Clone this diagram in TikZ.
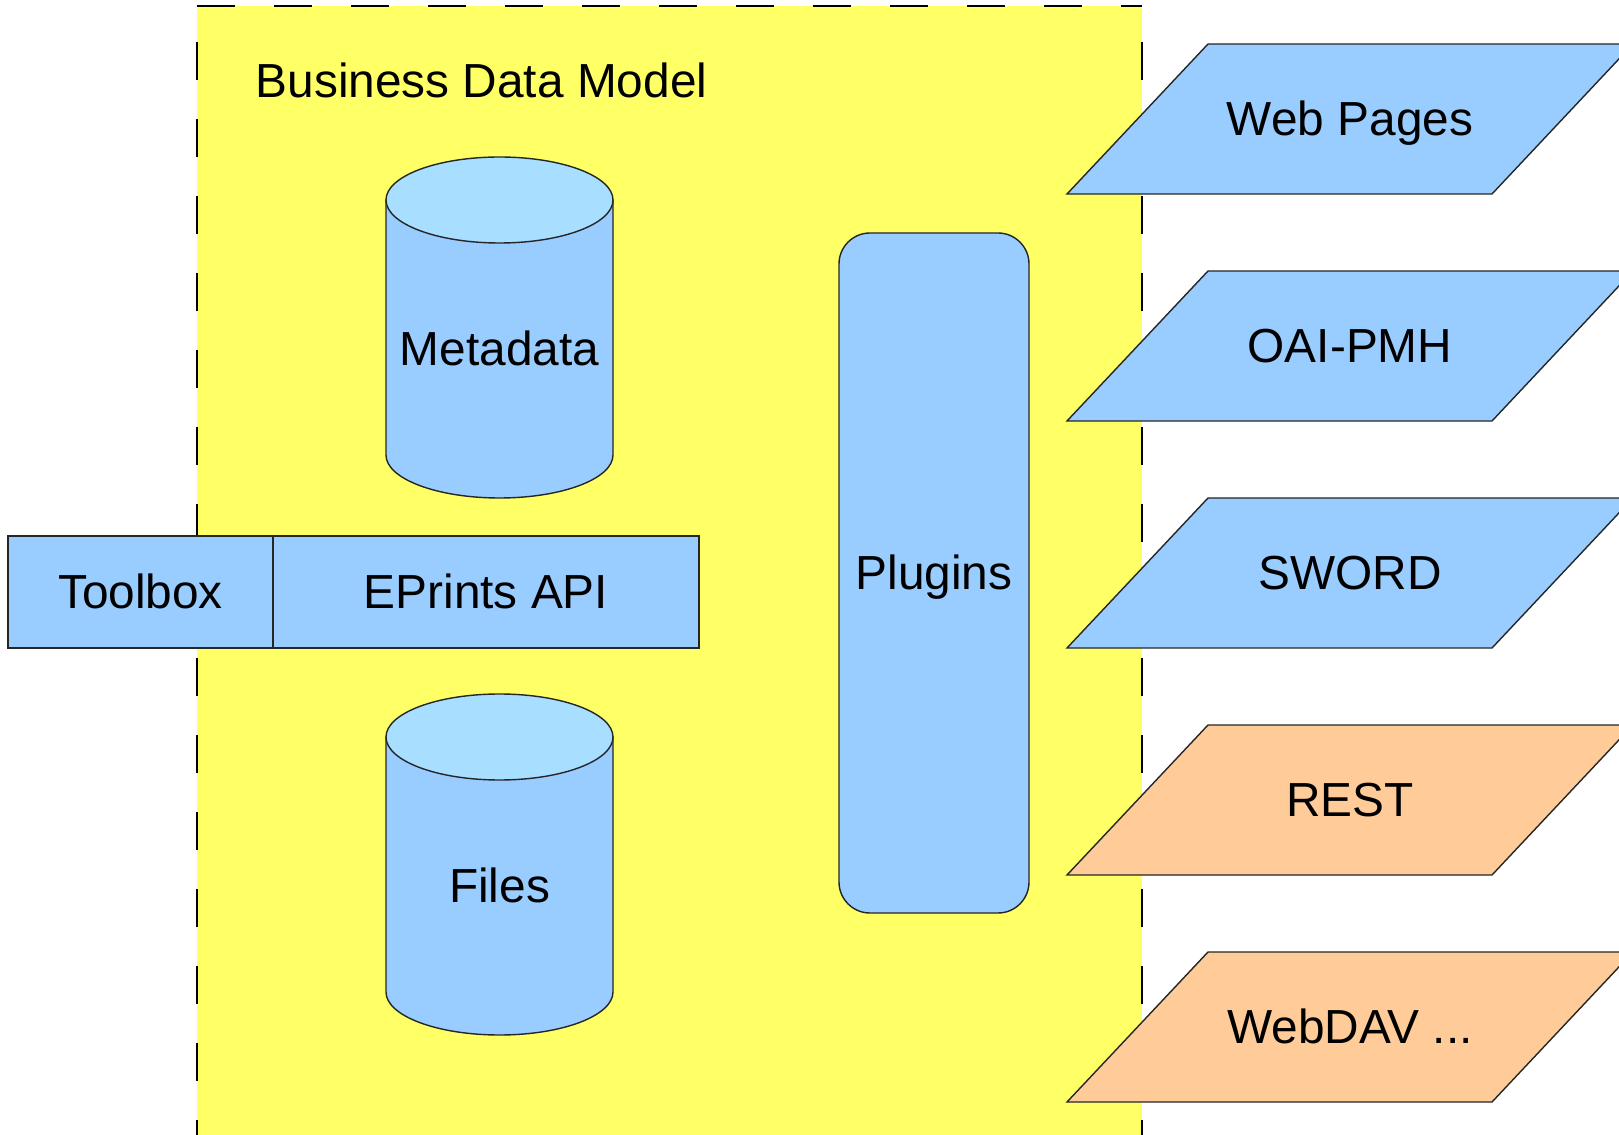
\documentclass[tikz,border=0pt]{standalone}
\usepackage{fontspec}
\setmainfont{Liberation Sans}
\usetikzlibrary{positioning}
\definecolor{boxblue}{HTML}{99CCFF}
\definecolor{cyltop}{HTML}{A8DEFF}
\definecolor{bgyellow}{HTML}{FFFF66}
\definecolor{boxorange}{HTML}{FFCC99}
\begin{document}
\begin{tikzpicture}[
	outline/.style={draw=black!85,line width=0.4pt},
	caption/.style={font=\fontsize{13.6}{16}\selectfont,inner sep=0pt,text height=0.93em,text depth=0pt},
	part/.style={outline,fill=boxblue,outer sep=0pt,caption}]
	\useasboundingbox (0,0) rectangle (16.19,-11.35);
	% Business Data Model area
	\fill[bgyellow] (1.97,-0.06) rectangle (11.42,-11.6);
	\draw[line width=0.5pt,dash pattern=on 10.81pt off 11.1pt] (1.97,-0.06)--(11.42,-0.06);
	\draw[line width=0.5pt,dash pattern=on 10.81pt off 11.1pt,dash phase=11.67pt] (1.97,-0.06)--(1.97,-11.6) (11.42,-0.06)--(11.42,-11.6);
	\node[caption,anchor=base west] (bdm) at (2.55,-0.98) {Business Data Model};
	% stores
	\foreach \name/\txt/\yt in {meta/Metadata/-2.00, files/Files/-7.37}{
		\draw[outline,fill=boxblue] (3.86,\yt)--(3.86,\yt-2.55) arc[start angle=180,end angle=360,x radius=1.135,y radius=0.43]--(6.13,\yt)--cycle;
		\draw[outline,fill=cyltop] (4.995,\yt) ellipse [x radius=1.135,y radius=0.43];
		\node[caption] (\name) at (4.995,\yt-1.49) {\txt};
	}
	\node[part,rounded corners=0.31cm,minimum width=1.90cm,minimum height=6.80cm] (plugins) at (9.34,-5.73) {Plugins};
	\node[part,minimum width=2.65cm,minimum height=1.12cm] (toolbox) at (1.405,-5.92) {Toolbox};
	\node[part,minimum width=4.26cm,minimum height=1.12cm,right=0pt of toolbox] (api) {EPrints API};
	% interfaces
	\foreach \name/\txt/\col [count=\i from 0] in {web/Web Pages/boxblue, oai/OAI-PMH/boxblue, sword/SWORD/boxblue, rest/REST/boxorange, dav/{WebDAV ...}/boxorange}{
		\pgfmathsetmacro\yt{-0.44-2.27*\i}
		\draw[outline,fill=\col] (10.67,\yt-1.50)--(14.92,\yt-1.50)--(16.33,\yt)--(12.08,\yt)--cycle;
		\node[caption] (\name) at (13.50,\yt-0.75) {\txt};
	}
\end{tikzpicture}
\end{document}
